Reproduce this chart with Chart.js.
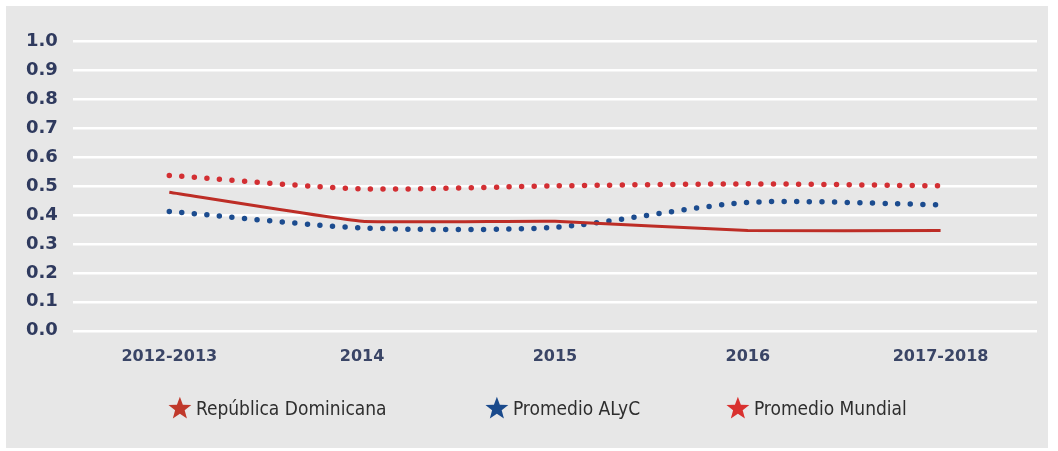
<!DOCTYPE html>
<html>
<head>
<meta charset="utf-8">
<script src="https://cdn.jsdelivr.net/npm/chart.js@4"></script>
<style>
  html, body { margin: 0; padding: 0; background: #ffffff; }
  #wrap { position: absolute; left: 0; top: 0; width: 1058px; height: 451px; }
  #panel { position: absolute; left: 6px; top: 6px; width: 1042px; height: 442px; background: #e7e7e7; }
  canvas { position: absolute; left: 0; top: 0; }
</style>
</head>
<body>
<div id="wrap">
  <div id="panel"></div>
  <canvas id="c" width="1058" height="451"></canvas>
</div>
<script>
const categories = ['2012-2013', '2014', '2015', '2016', '2017-2018'];
const seriesNames = ['República Dominicana', 'Promedio ALyC', 'Promedio Mundial'];
const republicaDominicana = [0.478, 0.378, 0.378, 0.346, 0.346];
const promedioALyC = [0.412, 0.355, 0.357, 0.443, 0.435];
const promedioMundial = [0.536, 0.490, 0.500, 0.507, 0.500];
const yTicks = [0.0, 0.1, 0.2, 0.3, 0.4, 0.5, 0.6, 0.7, 0.8, 0.9, 1.0];

const colRD = '#bd2d26';
const colALyC = '#1c4c8f';
const colMundial = '#d32f33';
const starColors = ['#c0392b', '#1a4a8c', '#d9312f'];

const FONT = '"DejaVu Sans", sans-serif';

function drawStar(ctx, cx, cy, R, color) {
  const r = R * 0.42;
  ctx.beginPath();
  for (let i = 0; i < 10; i++) {
    const rad = (i % 2 === 0) ? R : r;
    const a = -Math.PI / 2 + i * Math.PI / 5;
    const x = cx + rad * Math.cos(a), y = cy + rad * Math.sin(a);
    if (i === 0) ctx.moveTo(x, y); else ctx.lineTo(x, y);
  }
  ctx.closePath();
  ctx.fillStyle = color;
  ctx.fill();
}

// legend drawn under the chart: stars + series names, spread like the original
const starLegend = {
  id: 'starLegend',
  afterDraw(chart) {
    const ctx = chart.ctx;
    const area = chart.chartArea;
    const n = chart.data.datasets.length;
    const y = area.bottom + 79;
    const xs = [area.left + 107, area.left + 424, area.left + 665];
    ctx.save();
    ctx.font = 'condensed normal 19px ' + FONT;
    ctx.textBaseline = 'middle';
    ctx.textAlign = 'left';
    for (let i = 0; i < n; i++) {
      drawStar(ctx, xs[i], y - 1, 12, starColors[i]);
      ctx.fillStyle = '#2e2e2e';
      ctx.fillText(chart.data.datasets[i].label, xs[i] + 16, y);
    }
    ctx.restore();
  }
};

new Chart(document.getElementById('c'), {
  type: 'line',
  data: {
    labels: categories,
    datasets: [
      {
        label: seriesNames[0],
        data: republicaDominicana,
        borderColor: colRD,
        backgroundColor: colRD,
        borderWidth: 3,
        pointRadius: 0,
        tension: 0.12,
        fill: false,
        order: 1
      },
      {
        label: seriesNames[1],
        data: promedioALyC,
        borderColor: colALyC,
        backgroundColor: colALyC,
        borderWidth: 5.5,
        borderDash: [0, 12.6],
        borderCapStyle: 'round',
        pointRadius: 0,
        tension: 0.25,
        fill: false,
        order: 2
      },
      {
        label: seriesNames[2],
        data: promedioMundial,
        borderColor: colMundial,
        backgroundColor: colMundial,
        borderWidth: 5.5,
        borderDash: [0, 12.6],
        borderCapStyle: 'round',
        pointRadius: 0,
        tension: 0.25,
        fill: false,
        order: 3
      }
    ]
  },
  plugins: [starLegend],
  options: {
    responsive: false,
    animation: false,
    devicePixelRatio: 1,
    layout: { padding: { left: 11, right: 21, top: 41, bottom: 69 } },
    plugins: {
      tooltip: { enabled: false },
      legend: { display: false }
    },
    scales: {
      x: {
        offset: true,
        grid: { display: false, drawTicks: false },
        border: { display: false },
        ticks: {
          color: '#3a4566',
          padding: 16,
          font: { family: FONT, size: 16, weight: 'bold', style: 'condensed' }
        }
      },
      y: {
        min: 0,
        max: 1,
        afterBuildTicks: function (axis) { axis.ticks = yTicks.map(v => ({ value: v })); },
        grid: { color: '#ffffff', lineWidth: 2.5, drawTicks: false },
        border: { display: false },
        ticks: {
          autoSkip: false,
          color: '#2f3a5e',
          padding: 15,
          font: { family: FONT, size: 18, weight: 'bold', style: 'condensed' },
          callback: function (v) { return Number(v).toFixed(1); }
        }
      }
    }
  }
});
</script>
</body>
</html>
